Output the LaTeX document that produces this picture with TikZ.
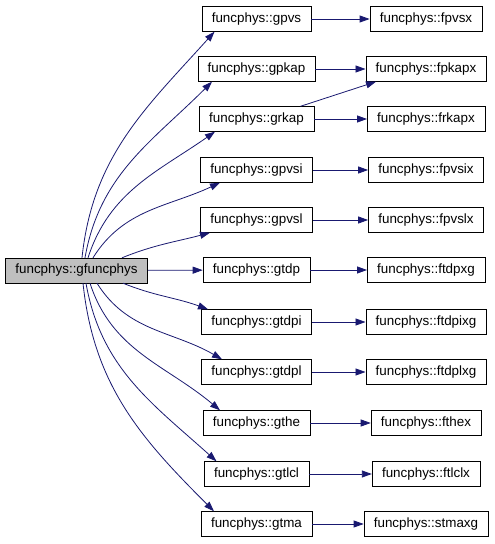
\documentclass[tikz,border=0pt]{standalone}
\usepackage{fontspec}
\setmainfont{Liberation Sans}
\usetikzlibrary{arrows.meta}

\begin{document}
\begin{tikzpicture}[x=1pt,y=1pt,
        fn/.style={draw=black, fill=white, inner xsep=10pt, inner ysep=0pt,
            minimum height=25pt, font=\fontsize{13.4}{16}\selectfont},
        call/.style={draw=edgecol, line width=0.8pt,
            -{Triangle[length=10pt,width=7pt]}}]
    \def\colA{76.5}
    \def\colB{256.5}
    \def\colC{426}

    \definecolor{edgecol}{HTML}{191970}
    \colorlet{mainfill}{black!25}

    \useasboundingbox (0,0) rectangle (495,544);

    % Caller
    \node[fn, fill=mainfill] (gfuncphys) at (\colA,{544-270.5}) {funcphys::gfuncphys};

    % Callees and their own callees
    \foreach \g/\f/\y in {gpvs/fpvsx/19, gpkap/fpkapx/69, grkap/frkapx/119,
            gpvsi/fpvsix/170, gpvsl/fpvslx/220, gtdp/ftdpxg/270,
            gtdpi/ftdpixg/322, gtdpl/ftdplxg/372, gthe/fthex/423,
            gtlcl/ftlclx/474, gtma/stmaxg/524} {
        \node[fn] (\g) at (\colB,{544-\y}) {funcphys::\g};
        \node[fn] (\f) at (\colC,{544-\y}) {funcphys::\f};
        \draw[call] (\g) -- (\f);
    }

    % Fan out upwards
    \foreach \g/\s/\t/\o/\i in {gpvs/5.5/-42/84/228, gpkap/8.5/-44.5/80/225,
            grkap/11.5/-41.5/72/215, gpvsi/16.5/-36.5/58/205,
            gpvsl/45.5/-46.5/22/195} {
        \draw[call] ([xshift=\s]gfuncphys.north) to[out=\o, in=\i]
            ([xshift=\t]\g.south);
    }

    % Fan out downwards
    \foreach \g/\s/\t/\o/\i in {gtdpi/46.5/-48.5/-22/160, gtdpl/20.5/-34.5/-58/150,
            gthe/13.5/-36.5/-72/140, gtlcl/9.5/-40/-80/138,
            gtma/6.5/-42.5/-84/135} {
        \draw[call] ([xshift=\s]gfuncphys.south) to[out=\o, in=\i]
            ([xshift=\t]\g.north);
    }

    \draw[call] (gfuncphys) -- (gtdp);
    \draw[call] ([xshift=44]grkap.north) -- ([xshift=-50]fpkapx.south);
\end{tikzpicture}
\end{document}
